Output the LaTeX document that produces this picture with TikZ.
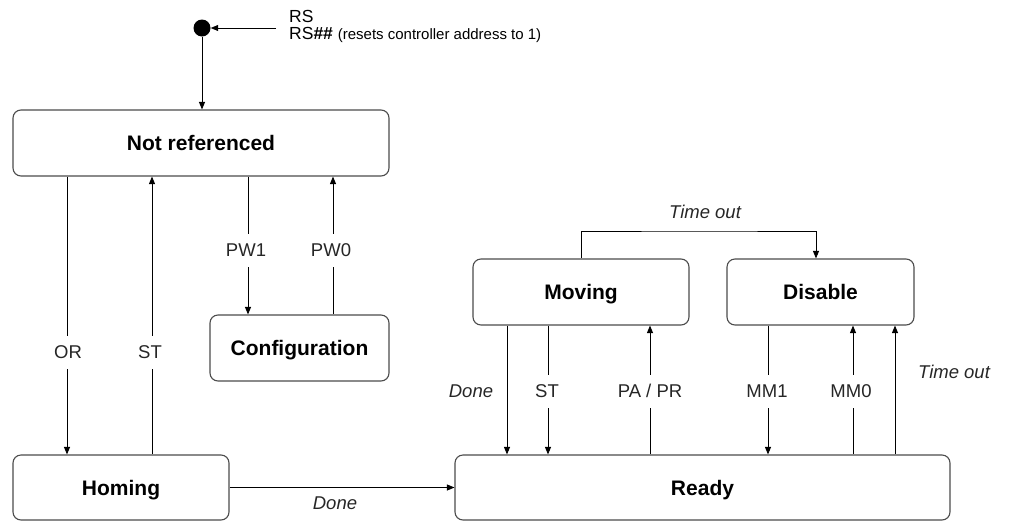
\documentclass[tikz,border=0pt]{standalone}
\usepackage{fontspec}
\setmainfont{Liberation Sans}
\usetikzlibrary{arrows.meta}
\begin{document}
\begin{tikzpicture}[x=1pt,y=-1pt,
  box/.style={draw=black!70, line width=1.1pt, rounded corners=8pt, inner sep=0pt,
    text height=15pt, text depth=0pt,
    font=\fontsize{21}{25}\selectfont\bfseries},
  lbl/.style={fill=white, inner xsep=2pt, inner ysep=10pt, text height=13pt, text depth=0pt,
    font=\fontsize{18.5}{22}\selectfont, text=black!85},
  ilbl/.style={inner sep=0pt, font=\fontsize{18.5}{22}\selectfont\itshape, text=black!85},
  conn/.style={line width=0.9pt, -{Triangle[length=7.5pt,width=6pt]}}]
\useasboundingbox (0,0) rectangle (1010,523);

% states
\node[box, minimum width=376pt, minimum height=66pt] (nr) at (201,143) {Not referenced};
\node[box, minimum width=179pt, minimum height=66pt] (cfg) at (299.5,348) {Configuration};
\node[box, minimum width=216pt, minimum height=65pt] (hom) at (121,487.5) {Homing};
\node[box, minimum width=495pt, minimum height=65pt] (rdy) at (702.5,487.5) {Ready};
\node[box, minimum width=216pt, minimum height=66pt] (mov) at (581,292) {Moving};
\node[box, minimum width=187pt, minimum height=66pt] (dis) at (820.5,292) {Disable};

% initial state
\node[circle, fill=black, minimum size=17pt, inner sep=0pt] (init) at (202,28) {};
\node[anchor=base west, inner sep=0pt, font=\fontsize{17.5}{20}\selectfont] (rs1) at (289,22) {RS};
\node[anchor=base west, inner sep=0pt, font=\fontsize{17.5}{20}\selectfont] (rs2) at (289,39)
  {RS{\bfseries\#\#} {\fontsize{15}{17}\selectfont(resets controller address to 1)}};
\coordinate (rsstart) at (276,28);
\draw[conn] (rsstart) -- (init);
\draw[conn] (init) -- (init |- nr.north);

% x positions of vertical connectors
\coordinate (xOR) at (67,0);
\coordinate (xST) at (152,0);
\coordinate (xPWa) at (248,0);
\coordinate (xPWb) at (333,0);
\coordinate (xDone) at (507,0);
\coordinate (xST2) at (548,0);
\coordinate (xPA) at (650,0);
\coordinate (xMMa) at (768,0);
\coordinate (xMMb) at (853,0);
\coordinate (xTO) at (895,0);
\coordinate (xTOd) at (816,0);
\coordinate (tt) at (700,231);

\draw[conn] (nr.south -| xOR) -- (hom.north -| xOR);
\draw[conn] (hom.north -| xST) -- (nr.south -| xST);
\draw[conn] (nr.south -| xPWa) -- (cfg.north -| xPWa);
\draw[conn] (cfg.north -| xPWb) -- (nr.south -| xPWb);
\draw[conn] (hom.east) -- (rdy.west);

\draw[conn] (mov.north) |- (tt) -| (dis.north -| xTOd);
\draw[conn] (mov.south -| xDone) -- (rdy.north -| xDone);
\draw[conn] (mov.south -| xST2) -- (rdy.north -| xST2);
\draw[conn] (rdy.north -| xPA) -- (mov.south -| xPA);
\draw[conn] (dis.south -| xMMa) -- (rdy.north -| xMMa);
\draw[conn] (rdy.north -| xMMb) -- (dis.south -| xMMb);
\draw[conn] (rdy.north -| xTO) -- (dis.south -| xTO);

% labels
\node[lbl] (lOR) at (68,352) {OR};
\node[lbl] (lST) at (150,352) {ST};
\node[lbl] (lPW1) at (246,250) {PW1};
\node[lbl] (lPW0) at (331,250) {PW0};
\node[lbl] (lST2) at (547,391) {ST};
\node[lbl] (lPA) at (650,391) {PA / PR};
\node[lbl] (lMM1) at (767,391) {MM1};
\node[lbl] (lMM0) at (851,391) {MM0};
\node[ilbl] (lDone1) at (471,391) {Done};
\node[ilbl] (lDone2) at (335,503) {Done};
\node[ilbl] (lTO1) at (705,212) {Time out};
\node[ilbl] (lTO2) at (954,372) {Time out};
\end{tikzpicture}
\end{document}
